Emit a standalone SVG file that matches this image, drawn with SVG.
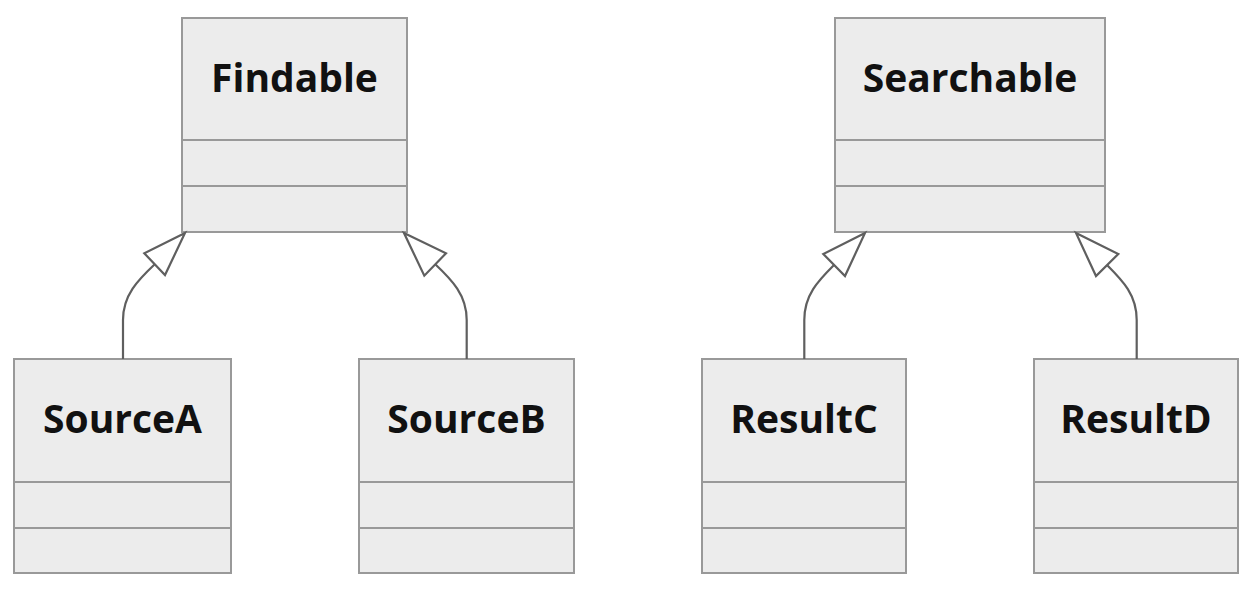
<svg xmlns="http://www.w3.org/2000/svg" width="1256" height="598" viewBox="0 0 1256 598">
<style>
.box{fill:#ececec;stroke:#999;stroke-width:2}
.div{stroke:#999;stroke-width:2}
.lbl{font-family:"Open Sans","Liberation Sans",sans-serif;font-weight:bold;font-size:39px;fill:#111;text-anchor:middle}
.edge{fill:none;stroke:#5f5f5f;stroke-width:2.2}
.head{fill:#fff;stroke:#5f5f5f;stroke-width:2.2;stroke-linejoin:miter}
</style>
<rect width="1256" height="598" fill="#fff"/>
<g id="Findable">
<rect class="box" x="182" y="18" width="225" height="214"/>
<line class="div" x1="182" y1="140" x2="407" y2="140"/>
<line class="div" x1="182" y1="186" x2="407" y2="186"/>
<text class="lbl" x="294.5" y="92">Findable</text>
</g>
<g id="Searchable">
<rect class="box" x="835" y="18" width="270" height="214"/>
<line class="div" x1="835" y1="140" x2="1105" y2="140"/>
<line class="div" x1="835" y1="186" x2="1105" y2="186"/>
<text class="lbl" x="970" y="92">Searchable</text>
</g>
<g id="SourceA">
<rect class="box" x="14" y="359" width="217" height="214"/>
<line class="div" x1="14" y1="482" x2="231" y2="482"/>
<line class="div" x1="14" y1="528" x2="231" y2="528"/>
<text class="lbl" x="122.5" y="432.5">SourceA</text>
</g>
<g id="SourceB">
<rect class="box" x="359" y="359" width="215" height="214"/>
<line class="div" x1="359" y1="482" x2="574" y2="482"/>
<line class="div" x1="359" y1="528" x2="574" y2="528"/>
<text class="lbl" x="466.5" y="432.5">SourceB</text>
</g>
<g id="ResultC">
<rect class="box" x="702" y="359" width="204" height="214"/>
<line class="div" x1="702" y1="482" x2="906" y2="482"/>
<line class="div" x1="702" y1="528" x2="906" y2="528"/>
<text class="lbl" x="804" y="432.5">ResultC</text>
</g>
<g id="ResultD">
<rect class="box" x="1034" y="359" width="204" height="214"/>
<line class="div" x1="1034" y1="482" x2="1238" y2="482"/>
<line class="div" x1="1034" y1="528" x2="1238" y2="528"/>
<text class="lbl" x="1136" y="432.5">ResultD</text>
</g>
<g id="connectors">
<path class="edge" d="M123,359 L123,320 C123,295 138,280 155,264"/>
<polygon class="head" points="185,233 144.3,253.3 165,275"/>
<path class="edge" d="M466.7,359 L466.7,320 C466.7,295 452,280 435,264"/>
<polygon class="head" points="404,233 446,253.3 424.3,275.7"/>
<path class="edge" d="M804.3,359 L804.3,320 C804.3,295 818,281 834,265"/>
<polygon class="head" points="865,233 823.3,254 845,276"/>
<path class="edge" d="M1136.7,359 L1136.7,320 C1136.7,295 1123,281 1107,265"/>
<polygon class="head" points="1076,233 1118.3,254 1096,276"/>
</g>
</svg>
